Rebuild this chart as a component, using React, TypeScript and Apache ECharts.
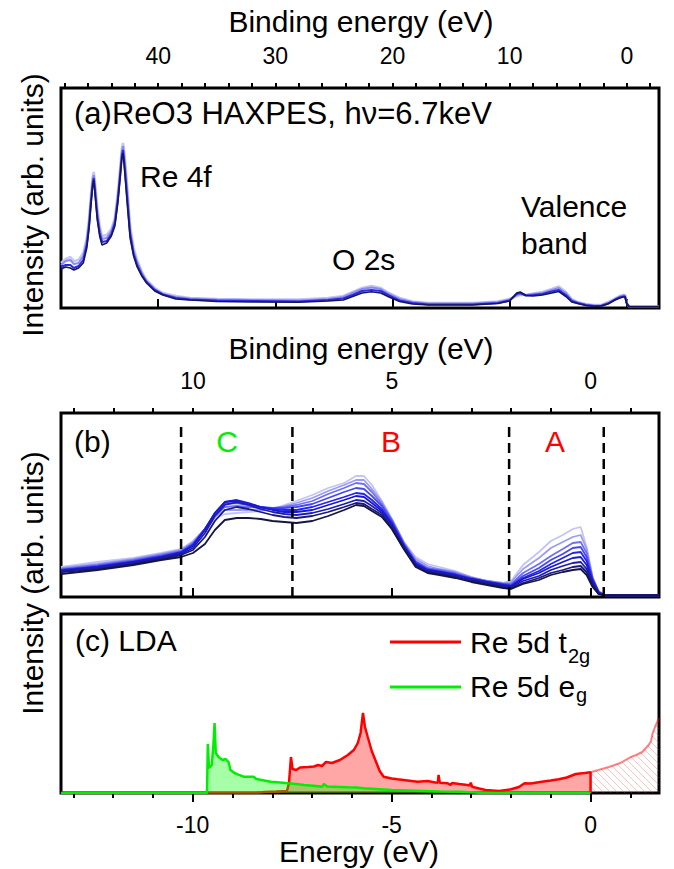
import React, { useEffect, useRef } from 'react';
import * as echarts from 'echarts';

const FONT = '"Liberation Sans", Arial, Helvetica, sans-serif';

// ---------- Panel (a): HAXPES wide scan (binding energy, eV) ----------
const aBindingEnergy = [48.3, 47.9, 47.5, 47.2, 46.8, 46.4, 46.1, 45.9, 45.75, 45.6, 45.5, 45.35, 45.2, 45.0, 44.8, 44.4, 44.0, 43.7, 43.45, 43.25, 43.1, 43.0, 42.85, 42.65, 42.4, 42.1, 41.8, 41.4, 41.0, 40.3, 39.6, 38.5, 37.3, 35.0, 32.0, 28.0, 25.5, 24.2, 23.4, 22.6, 21.8, 21.0, 20.3, 19.4, 18.3, 16.9, 13.2, 11.0, 10.0, 9.4, 9.1, 8.6, 8.0, 7.2, 6.4, 5.8, 5.2, 4.7, 4.2, 3.5, 2.8, 2.2, 1.6, 1.0, 0.6, 0.3, 0.15, 0.0, -0.2, -1.0, -2.75];
const aLight = [45, 49, 51, 47, 48, 55, 70, 90, 112, 131, 136, 120, 100, 82, 72, 73, 79, 90, 115, 140, 160, 165, 150, 122, 82, 60, 48, 36, 28, 20, 15, 12, 10, 9, 8.5, 8.5, 10, 12, 16, 20, 22, 20, 15, 10, 6.5, 5, 5, 6.5, 9, 12, 13, 13, 14.5, 16, 19, 21.5, 16, 9, 6, 4, 3, 3, 6, 9.5, 12, 13, 13, 5, 1.5, 1.3, 1.3];
const aMidLight = [43, 47, 48, 44, 45, 52, 67, 87, 109, 128, 133, 116, 96, 79, 69, 70, 77, 88, 112, 137, 157, 162, 146, 118, 78, 57, 46, 35, 27, 19, 14, 11, 9.5, 8.5, 8, 7.5, 9, 11, 15, 19, 20.5, 19, 14, 9, 6, 4.5, 4.5, 6, 8.5, 13, 14, 13, 14, 15, 18, 20, 15, 8, 5.5, 3.5, 2.5, 2.5, 5, 9, 11.5, 12.5, 12.5, 5, 1.4, 1.3, 1.3];
const aBlue = [41, 43, 43, 40, 42, 48, 63, 83, 105, 124, 130, 111, 91, 75, 66, 67, 74, 85, 108, 133, 153, 158, 139, 110, 74, 54, 43, 33, 26, 18, 13.5, 10, 8.5, 7.5, 7, 6.5, 8, 9.5, 13, 17, 18, 17, 12.5, 7.5, 5, 3.5, 3.5, 5, 7.5, 14, 15, 12.5, 13, 14, 16.5, 18, 13, 7, 5, 3, 2, 2, 4.5, 8.5, 10.5, 11.5, 11.5, 4.5, 1.3, 1.3, 1.3];
const aNavy = [39, 41, 40, 38, 40, 45, 60, 80, 102, 121, 128, 108, 88, 72, 63, 65, 72, 82, 105, 130, 150, 155, 135, 105, 70, 52, 41, 32, 25, 17, 13, 9, 8, 6.5, 6, 5.7, 7, 8, 11.5, 15, 16.3, 15, 11, 6.5, 4, 3, 3, 4.5, 7, 15, 16, 12.5, 12, 13, 15, 16.5, 11.5, 6, 4.5, 2.5, 1.5, 2, 4, 8, 10, 11, 11, 4, 1.3, 1.3, 1.3];
const aMajorTicks = [0, 10, 20, 30, 40];
const aMinorTicks = [-2, 0, 2, 4, 6, 8, 10, 12, 14, 16, 18, 20, 22, 24, 26, 28, 30, 32, 34, 36, 38, 40, 42, 44, 46, 48];

// ---------- Panel (b): valence band spectra ----------
const bBindingEnergy = [13.32, 12.4, 11.5, 10.8, 10.3, 10.0, 9.7, 9.45, 9.2, 8.9, 8.6, 8.3, 8.0, 7.7, 7.4, 7.0, 6.6, 6.2, 5.9, 5.7, 5.5, 5.25, 5.0, 4.7, 4.4, 4.1, 3.8, 3.4, 3.0, 2.6, 2.2, 2.0, 1.7, 1.3, 1.0, 0.7, 0.45, 0.25, 0.1, -0.05, -0.2, -0.35, -0.7, -1.72];
const b0 = [23, 27, 32, 37, 40, 44, 53, 67, 77, 79, 79, 78, 76, 75, 74, 76, 81, 87, 92, 91, 86, 80, 68, 48, 30, 24, 22, 19, 15, 12, 9, 8, 13, 17, 22, 25, 27, 28, 22, 10, 3, 1.5, 1.5, 1.5];
const b1 = [25, 28, 33, 38, 42, 47, 60, 76, 87, 90, 88, 85, 82, 80, 79, 81, 85, 90, 94, 93, 88, 82, 69, 49, 31, 25, 23, 20, 16, 13, 10, 9, 14, 19, 24, 27, 30, 31, 25, 12, 3, 1.5, 1.5, 1.5];
const b2 = [26, 29, 34, 39, 43, 49, 64, 81, 92, 95, 92, 88, 85, 83, 82, 84, 88, 93, 97, 96, 91, 84, 71, 50, 32, 26, 24, 21, 17, 14, 11, 10, 16, 21, 27, 31, 34, 35, 28, 14, 4, 1.5, 1.5, 1.5];
const b3 = [26, 30, 35, 40, 44, 51, 67, 84, 95, 97, 94, 90, 87, 85, 85, 87, 92, 97, 101, 100, 94, 86, 73, 51, 33, 27, 25, 22, 18, 15, 12, 11, 18, 24, 30, 35, 39, 40, 32, 15, 4, 1.5, 1.5, 1.5];
const b4 = [27, 30, 35, 40, 45, 52, 68, 84, 95, 96, 93, 90, 88, 87, 87, 90, 95, 100, 104, 103, 97, 88, 74, 52, 34, 27, 25, 22, 18, 15, 12, 11, 19, 26, 33, 39, 44, 45, 36, 17, 5, 1.5, 1.5, 1.5];
const b5 = [27, 31, 36, 41, 45, 53, 68, 83, 93, 94, 92, 90, 89, 89, 90, 93, 99, 105, 109, 108, 101, 91, 76, 53, 35, 28, 26, 23, 19, 15, 13, 12, 21, 29, 37, 43, 49, 50, 40, 18, 5, 2, 1.5, 1.5];
const b6 = [28, 32, 37, 42, 46, 54, 68, 81, 90, 91, 90, 89, 89, 90, 92, 96, 103, 109, 114, 113, 105, 93, 77, 54, 36, 29, 27, 24, 19, 16, 13, 13, 24, 33, 41, 48, 54, 55, 44, 19, 5, 2, 1.5, 1.5];
const b7 = [29, 33, 38, 43, 47, 55, 68, 80, 87, 87, 87, 87, 88, 91, 94, 99, 106, 112, 117, 117, 108, 95, 78, 55, 38, 31, 28, 25, 20, 16, 14, 15, 28, 39, 49, 55, 60, 62, 48, 19, 6, 2, 1.5, 1.5];
const b8 = [30, 35, 39, 44, 48, 56, 68, 78, 83, 84, 85, 86, 88, 92, 96, 102, 109, 114, 121, 121, 112, 96, 78, 55, 40, 33, 30, 26, 20, 16, 14, 16, 32, 45, 56, 62, 68, 70, 50, 20, 6, 2, 1.5, 1.5];
const bDashPositions = [10.3, 7.5, 2.05, -0.33];
const bMajorTicks = [0, 5, 10];
const bMinorTicks = [-1, 0, 1, 2, 3, 4, 5, 6, 7, 8, 9, 10, 11, 12, 13];

// ---------- Panel (c): LDA partial DOS ----------
const t2gOccupied: [number, number][] = [[-13.31, 0], [-8.4, 0], [-8.2, 1], [-7.9, 1.5], [-7.63, 2], [-7.58, 10], [-7.53, 36], [-7.49, 24], [-7.4, 23], [-7.3, 25.5], [-7.1, 26], [-6.95, 26.5], [-6.85, 28], [-6.75, 27], [-6.65, 31], [-6.5, 30], [-6.3, 33], [-6.1, 38], [-5.95, 43], [-5.85, 50], [-5.78, 60], [-5.72, 80], [-5.67, 66], [-5.6, 56], [-5.5, 42], [-5.4, 32], [-5.3, 22], [-5.2, 16.3], [-5.0, 14.5], [-4.85, 13.7], [-4.6, 12.5], [-4.35, 11.3], [-4.1, 12], [-3.9, 10.5], [-3.84, 10.3], [-3.82, 18], [-3.79, 10.3], [-3.6, 9.8], [-3.52, 8], [-3.48, 10], [-3.3, 9], [-3.1, 8], [-3.04, 7.5], [-3.01, 10.3], [-2.98, 6.3], [-2.8, 4.5], [-2.64, 3], [-2.3, 2], [-2.0, 3.7], [-1.8, 6], [-1.66, 9.7], [-1.5, 9.5], [-1.23, 11.3], [-1.0, 12.5], [-0.8, 13.7], [-0.6, 15.5], [-0.37, 19], [-0.15, 20], [0, 20.7], [0, 0]];
const t2gUnoccupied: [number, number][] = [[0, 20.7], [0.2, 23], [0.48, 26.3], [0.75, 30], [1.03, 36.3], [1.15, 38], [1.3, 41], [1.46, 48], [1.52, 52], [1.56, 59.7], [1.62, 66], [1.72, 75]];
const egDos: [number, number][] = [[-13.31, 0], [-9.64, 0], [-9.62, 49], [-9.59, 25], [-9.52, 28], [-9.48, 48], [-9.45, 70], [-9.42, 40], [-9.35, 36], [-9.25, 33], [-9.17, 34], [-9.1, 31], [-9.05, 23], [-8.95, 20], [-8.87, 18.7], [-8.72, 16.3], [-8.47, 16.3], [-8.4, 14], [-8.2, 12.5], [-8.04, 11.3], [-7.8, 10.5], [-7.61, 9.7], [-7.4, 9], [-7.2, 8], [-6.9, 7], [-6.75, 6.3], [-6.7, 9], [-6.62, 6.5], [-6.3, 6], [-6.1, 5.7], [-5.9, 5.5], [-5.7, 4.7], [-5.4, 4], [-5.0, 3], [-4.6, 2.5], [-4.2, 2], [-3.8, 1.5], [-3.3, 1.2], [-2.9, 0.6], [-2.7, 0], [0, 0]];
const cMajorTicks = [-10, -5, 0];
const cMinorTicks = [-13, -12, -11, -10, -9, -8, -7, -6, -5, -4, -3, -2, -1, 0, 1];

const zip = (xs: number[], ys: number[]) => xs.map((x, i) => [x, ys[i]]);

function makeHatch(): HTMLCanvasElement {
  const c = document.createElement('canvas');
  c.width = 7;
  c.height = 7;
  const ctx = c.getContext('2d')!;
  ctx.strokeStyle = 'rgba(255,60,60,0.45)';
  ctx.lineWidth = 1;
  ctx.beginPath();
  ctx.moveTo(-1, -1); ctx.lineTo(8, 8);
  ctx.moveTo(-1, 6); ctx.lineTo(1, 8);
  ctx.moveTo(6, -1); ctx.lineTo(8, 1);
  ctx.stroke();
  return c;
}

function majorAxis(gridIndex: number, min: number, max: number, inverse: boolean, position: string, values: number[], margin: number) {
  return {
    type: 'value', gridIndex, min, max, inverse, position,
    axisLine: { show: false }, splitLine: { show: false },
    axisTick: { show: true, inside: false, length: 9, lineStyle: { color: '#000', width: 2 }, customValues: values },
    axisLabel: { show: true, customValues: values, fontSize: 23, color: '#000', fontFamily: FONT, margin },
  };
}
function minorAxis(gridIndex: number, min: number, max: number, inverse: boolean, position: string, values: number[]) {
  return {
    type: 'value', gridIndex, min, max, inverse, position,
    axisLine: { show: false }, splitLine: { show: false },
    axisTick: { show: true, inside: false, length: 5, lineStyle: { color: '#000', width: 2 }, customValues: values },
    axisLabel: { show: false },
  };
}

function txt(text: string, x: number, y: number, size: number, opts: any = {}) {
  return {
    type: 'text', x, y, rotation: opts.rotation || 0, z: 100,
    style: {
      text, fill: opts.fill || '#000', fontSize: size, fontFamily: FONT,
      textAlign: opts.align || 'left', align: opts.align || 'left',
      textVerticalAlign: 'middle', verticalAlign: 'middle',
    },
  };
}

export default function App() {
  const ref = useRef<HTMLDivElement>(null);
  useEffect(() => {
    const chart = echarts.init(ref.current!, null, { renderer: 'svg' });
    const gridBase = { left: 61, width: 598, show: true, borderColor: '#000', borderWidth: 3, backgroundColor: 'transparent' };

    const aSeries = [
      { d: aLight, c: '#c6c6f6', w: 2.5 },
      { d: aMidLight, c: '#8c8cf0', w: 2 },
      { d: aBlue, c: '#2a2ae2', w: 2 },
      { d: aNavy, c: '#16165e', w: 1.6 },
    ].map((s) => ({
      type: 'line', xAxisIndex: 0, yAxisIndex: 0, data: zip(aBindingEnergy, s.d),
      symbol: 'none', lineStyle: { color: s.c, width: s.w }, silent: true,
    }));

    const bList = [
      { d: b8, c: '#c4c4f8' }, { d: b7, c: '#9c9cf5' }, { d: b6, c: '#7070f2' },
      { d: b5, c: '#4848f2' }, { d: b4, c: '#2424f0' }, { d: b3, c: '#1818d6' },
      { d: b2, c: '#1c1cae' }, { d: b1, c: '#1a1a7c' }, { d: b0, c: '#151542' },
    ];
    const bSeries = bList.map((s) => ({
      type: 'line', xAxisIndex: 2, yAxisIndex: 1, data: zip(bBindingEnergy, s.d),
      symbol: 'none', lineStyle: { color: s.c, width: 1.8 }, silent: true,
    }));
    const dashSeries = bDashPositions.map((x) => ({
      type: 'line', xAxisIndex: 2, yAxisIndex: 1, data: [[x, 0], [x, 173]],
      symbol: 'none', lineStyle: { color: '#000', width: 2.5, type: [10, 6] }, silent: true, z: 5,
    }));

    const cSeries = [
      {
        type: 'line', xAxisIndex: 4, yAxisIndex: 2, data: t2gOccupied, symbol: 'none', z: 2,
        lineStyle: { color: '#ff0000', width: 2.5 }, areaStyle: { color: 'rgba(255,0,0,0.5)' }, silent: true,
      },
      {
        type: 'line', xAxisIndex: 4, yAxisIndex: 2, data: t2gUnoccupied, symbol: 'none', z: 2,
        lineStyle: { color: 'rgba(255,0,0,0.5)', width: 2 },
        areaStyle: { color: { image: makeHatch(), repeat: 'repeat' } }, silent: true,
      },
      {
        type: 'line', xAxisIndex: 4, yAxisIndex: 2, data: egDos, symbol: 'none', z: 3,
        lineStyle: { color: '#00ee00', width: 2.5 }, areaStyle: { color: 'rgba(0,255,0,0.5)' }, silent: true,
      },
    ];

    const option: any = {
      animation: false,
      backgroundColor: '#fff',
      textStyle: { fontFamily: FONT },
      grid: [
        { ...gridBase, top: 88, height: 220 },
        { ...gridBase, top: 413, height: 184 },
        { ...gridBase, top: 614, height: 179 },
      ],
      xAxis: [
        majorAxis(0, -2.75, 48.3, true, 'top', aMajorTicks, 21),
        minorAxis(0, -2.75, 48.3, true, 'top', aMinorTicks),
        majorAxis(1, -1.72, 13.32, true, 'top', bMajorTicks, 21),
        minorAxis(1, -1.72, 13.32, true, 'top', bMinorTicks),
        majorAxis(2, -13.31, 1.72, false, 'bottom', cMajorTicks, 20),
        minorAxis(2, -13.31, 1.72, false, 'bottom', cMinorTicks),
      ],
      yAxis: [
        { type: 'value', gridIndex: 0, min: 0, max: 220, show: false },
        { type: 'value', gridIndex: 1, min: 0, max: 184, show: false },
        { type: 'value', gridIndex: 2, min: 0, max: 179, show: false },
      ],
      series: [...aSeries, ...bSeries, ...dashSeries, ...cSeries],
      graphic: [
        txt('Binding energy (eV)', 361, 21, 30, { align: 'center' }),
        txt('Binding energy (eV)', 361, 348.6, 30, { align: 'center' }),
        txt('Energy (eV)', 359, 851.6, 30, { align: 'center' }),
        txt('Intensity (arb. units)', 32, 205, 30, { align: 'center', rotation: Math.PI / 2 }),
        txt('Intensity (arb. units)', 32, 583, 30, { align: 'center', rotation: Math.PI / 2 }),
        txt('(a)ReO3 HAXPES, h\u03BD=6.7keV', 74, 113.3, 31),
        txt('Re 4f', 140, 176.6, 30),
        txt('O 2s', 332, 259.6, 30),
        txt('Valence', 521, 206.6, 30),
        txt('band', 521, 243.6, 30),
        txt('(b)', 74, 441.6, 30),
        txt('C', 227, 441.6, 30, { align: 'center', fill: '#00ee00' }),
        txt('B', 391, 441.6, 30, { align: 'center', fill: '#ff0000' }),
        txt('A', 555, 441.6, 30, { align: 'center', fill: '#ff0000' }),
        txt('(c) LDA', 75, 640.6, 30),
        { type: 'line', shape: { x1: 390, y1: 642, x2: 461, y2: 642 }, style: { stroke: '#ff0000', lineWidth: 3 }, z: 100 },
        { type: 'line', shape: { x1: 390, y1: 687, x2: 461, y2: 687 }, style: { stroke: '#00ee00', lineWidth: 3 }, z: 100 },
        txt('Re 5d t', 470, 642.6, 30),
        txt('2g', 568, 656, 20),
        txt('Re 5d e', 470, 686.6, 30),
        txt('g', 576, 695, 20),
      ],
    };
    chart.setOption(option);
    return () => chart.dispose();
  }, []);
  return <div ref={ref} style={{ position: 'fixed', left: 0, top: 0, width: 674, height: 869, background: '#fff' }} />;
}
